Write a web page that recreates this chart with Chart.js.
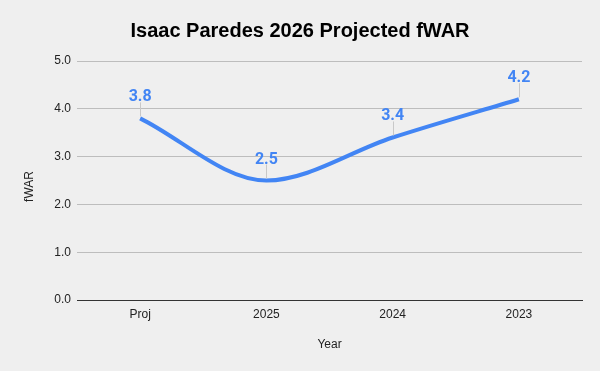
<!DOCTYPE html>
<html>
<head>
<meta charset="utf-8">
<script src="https://cdn.jsdelivr.net/npm/chart.js@4"></script>
<style>
html,body{margin:0;padding:0;background:#efefef;}
#wrap{width:600px;height:371px;position:relative;}
</style>
</head>
<body>
<div id="wrap"><canvas id="c" width="600" height="371"></canvas></div>
<script>
const categories = ["Proj", "2025", "2024", "2023"];
const fwarValues = [3.8, 2.5, 3.4, 4.2];
const yTicks = [0, 1, 2, 3, 4, 5];
const yTitle = "fWAR";

const labelPlugin = {
  id: 'pointLabels',
  afterDatasetsDraw(chart) {
    const ctx = chart.ctx;
    const meta = chart.getDatasetMeta(0);
    ctx.save();
    meta.data.forEach((pt, i) => {
      const x = pt.x, y = pt.y;
      ctx.strokeStyle = '#c8c8c8';
      ctx.lineWidth = 1;
      ctx.beginPath();
      ctx.moveTo(Math.round(x) + 0.5, y - 2);
      ctx.lineTo(Math.round(x) + 0.5, y - 16);
      ctx.stroke();
      ctx.fillStyle = '#4285f4';
      ctx.font = 'bold 16px Roboto, "Liberation Sans", Arial, sans-serif';
      ctx.textAlign = 'center';
      ctx.textBaseline = 'alphabetic';
      ctx.fillText(fwarValues[i].toFixed(1), x, y - 17);
    });
    // y axis title
    const area = chart.chartArea;
    ctx.translate(30, (area.top + area.bottom) / 2 + 6);
    ctx.rotate(-Math.PI / 2);
    ctx.fillStyle = '#222';
    ctx.font = '12px Arial, "Liberation Sans", sans-serif';
    ctx.textAlign = 'center';
    ctx.textBaseline = 'middle';
    ctx.fillText(yTitle, 0, 0);
    ctx.restore();
  }
};

const bgPlugin = {
  id: 'bg',
  beforeDraw(chart) {
    const ctx = chart.ctx;
    ctx.save();
    ctx.fillStyle = '#efefef';
    ctx.fillRect(0, 0, chart.width, chart.height);
    ctx.restore();
  }
};

new Chart(document.getElementById('c'), {
  type: 'line',
  data: {
    labels: categories,
    datasets: [{
      data: fwarValues,
      borderColor: '#4285f4',
      borderWidth: 4,
      pointRadius: 0,
      cubicInterpolationMode: 'monotone',
      fill: false
    }]
  },
  options: {
    responsive: false,
    animation: false,
    devicePixelRatio: 1,
    layout: { padding: { left: 0, right: 0, top: 0, bottom: 0 } },
    plugins: {
      legend: { display: false },
      tooltip: { enabled: false },
      title: {
        display: true,
        text: 'Isaac Paredes 2026 Projected fWAR',
        color: '#000',
        font: { family: 'Arial, "Liberation Sans", sans-serif', size: 20, weight: 'bold' },
        padding: { top: 19, bottom: 18 }
      }
    },
    scales: {
      x: {
        offset: true,
        grid: { display: false, drawTicks: false },
        border: { display: true, color: '#333', width: 1 },
        ticks: { color: '#222', font: { family: 'Arial, "Liberation Sans", sans-serif', size: 12 }, padding: 7 },
        title: { display: true, text: 'Year', color: '#222', font: { family: 'Arial, "Liberation Sans", sans-serif', size: 12 }, padding: { top: 0, bottom: 19 } },
        afterFit(s) { s.height = 71; }
      },
      y: {
        min: 0, max: 5,
        afterBuildTicks(s) { s.ticks = yTicks.map(v => ({ value: v })); },
        grid: { color: '#bdbdbd', drawTicks: false },
        border: { display: false },
        ticks: { color: '#222', font: { family: 'Arial, "Liberation Sans", sans-serif', size: 12 }, padding: 6, callback: v => Number(v).toFixed(1) },
        title: { display: false },
        afterFit(s) { s.width = 77; }
      },
      yRight: {
        position: 'right',
        display: true,
        grid: { display: false, drawOnChartArea: false, drawTicks: false },
        border: { display: false },
        ticks: { display: false },
        afterFit(s) { s.width = 18; }
      }
    }
  },
  plugins: [bgPlugin, labelPlugin]
});
</script>
</body>
</html>
